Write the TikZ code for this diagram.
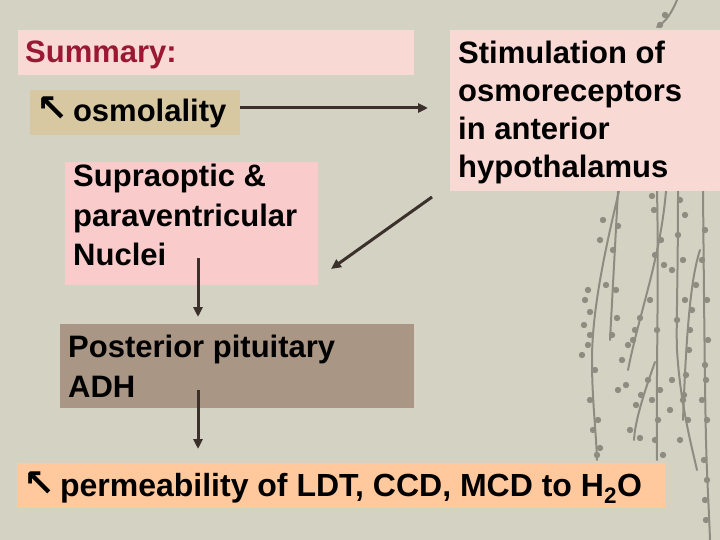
\documentclass[tikz,border=0pt]{standalone}
\usepackage{fontspec}
\setmainfont{Liberation Sans}
\newfontfamily\arrowfont{DejaVu Sans}
\usetikzlibrary{arrows.meta}
\definecolor{bgc}{HTML}{D4D3C3}
\definecolor{pinkA}{HTML}{F8D9D3}
\definecolor{tanA}{HTML}{D8C8A2}
\definecolor{pinkB}{HTML}{F9CBCB}
\definecolor{brownA}{HTML}{A99684}
\definecolor{peach}{HTML}{FFC99D}
\definecolor{sumred}{HTML}{9A1832}
\definecolor{arrowc}{HTML}{3C302C}
\definecolor{plant}{HTML}{8E8B80}
\tikzset{
  box/.style={draw=none, inner sep=0pt, anchor=north west},
  lbl/.style={inner sep=0pt, anchor=base west, align=left,
    font=\bfseries\fontsize{31}{38}\selectfont},
  conn/.style={draw=arrowc, line width=3pt, -{Triangle[length=10pt,width=9pt]}},
  branch/.style={draw=plant, line width=2pt, line cap=round},
  bud/.style={fill=plant}
}
\newcommand{\upleft}{{\arrowfont\bfseries\fontsize{38}{38}\selectfont ↖}}
\begin{document}
\begin{tikzpicture}[x=1pt,y=-1pt]
\useasboundingbox (0,0) rectangle (720,540);
\fill[bgc] (0,0) rectangle (720,540);
% plant decoration
\draw[branch] (619,191) .. controls (605,250) and (592,310) .. (592,360) .. controls (592,400) and (596,430) .. (597,460);
\draw[branch] (618,191) -- (610,340);
\draw[branch] (657,191) .. controls (659,280) and (656,380) .. (657,460);
\draw[branch] (666,191) .. controls (660,260) and (640,310) .. (628,370);
\draw[branch] (678,191) .. controls (678,280) and (676,330) .. (677,350) .. controls (680,400) and (690,440) .. (697,470);
\draw[branch] (703,191) .. controls (704,300) and (705,400) .. (706,440) .. controls (707,480) and (709,510) .. (710,540);
\draw[branch] (700,250) .. controls (690,280) and (686,340) .. (683,420);
\draw[branch] (655,362) .. controls (645,390) and (635,420) .. (634,440);
\draw[branch] (677,0) .. controls (672,12) and (666,22) .. (657,27);
\foreach \p in {(603,220),(600,240),(588,290),(585,300),(590,312),(584,325),(590,335),(588,345),(582,355),(595,370),(590,400),(598,420),(593,430),(600,448),(597,455),
 (613,250),(606,285),(616,290),(617,318),(612,335),(618,226),
 (652,196),(654,210),(661,240),(655,255),(664,265),(650,300),(657,330),(660,390),(652,400),(658,420),(655,440),(663,455),
 (635,330),(628,345),(633,340),(626,385),(622,360),(640,318),(618,390),
 (680,200),(685,215),(678,235),(683,260),(672,270),(685,300),(677,320),(690,330),(672,380),(683,400),(670,410),(688,420),(680,440),
 (705,230),(702,260),(707,300),(708,340),(705,365),(706,380),(702,400),(707,420),(704,460),(707,480),(705,500),(706,520),
 (696,285),(692,310),(689,350),(686,375),(684,395),
 (641,395),(636,405),(648,380),(630,430),(640,438),(665,15),(660,25)}
  \fill[bud] \p circle (3.2pt);
% boxes
\node[box, fill=pinkA, minimum width=396pt, minimum height=45pt] (sum) at (18,30) {};
\node[box, fill=tanA, minimum width=210pt, minimum height=45pt] (osm) at (30,90) {};
\node[box, fill=pinkA, minimum width=270pt, minimum height=161pt] (stim) at (450,30) {};
\node[box, fill=pinkB, minimum width=253pt, minimum height=123pt] (supra) at (65,162) {};
\node[box, fill=brownA, minimum width=354pt, minimum height=84pt] (post) at (60,324) {};
\node[box, fill=peach, minimum width=649pt, minimum height=45pt] (perm) at (17,463) {};
% texts (base anchor = baseline of the last line)
\node[lbl, text=sumred] (sumT) at (25,63) {Summary:};
\node[lbl] (osmT) at (36,122) {\upleft\hspace{5pt}osmolality};
\node[lbl] (stimT) at (458,178) {Stimulation of\\osmoreceptors\\in anterior\\hypothalamus};
\node[lbl, font=\bfseries\fontsize{31}{39}\selectfont] (supraT) at (73,265) {Supraoptic \&\\paraventricular\\Nuclei};
\node[lbl, font=\bfseries\fontsize{31}{40}\selectfont] (postT) at (68,397) {Posterior pituitary\\ADH};
\node[lbl, font=\bfseries\fontsize{32}{36}\selectfont] (permT) at (23,496) {\upleft\hspace{5pt}permeability of LDT, CCD, MCD to H\textsubscript{2}O};
% connectors
\coordinate (e1) at (428,108);
\coordinate (s2) at (432,197);
\coordinate (e2) at (331,269);
\coordinate (s3) at (198,258);
\coordinate (s4) at (198,390);
\draw[conn] (osm.east |- e1) -- (e1);
\draw[conn] (s2) -- (e2);
\draw[conn, shorten >=7pt] (s3) -- (s3 |- post.north);
\draw[conn, shorten >=14pt] (s4) -- (s4 |- perm.north);
\end{tikzpicture}
\end{document}
